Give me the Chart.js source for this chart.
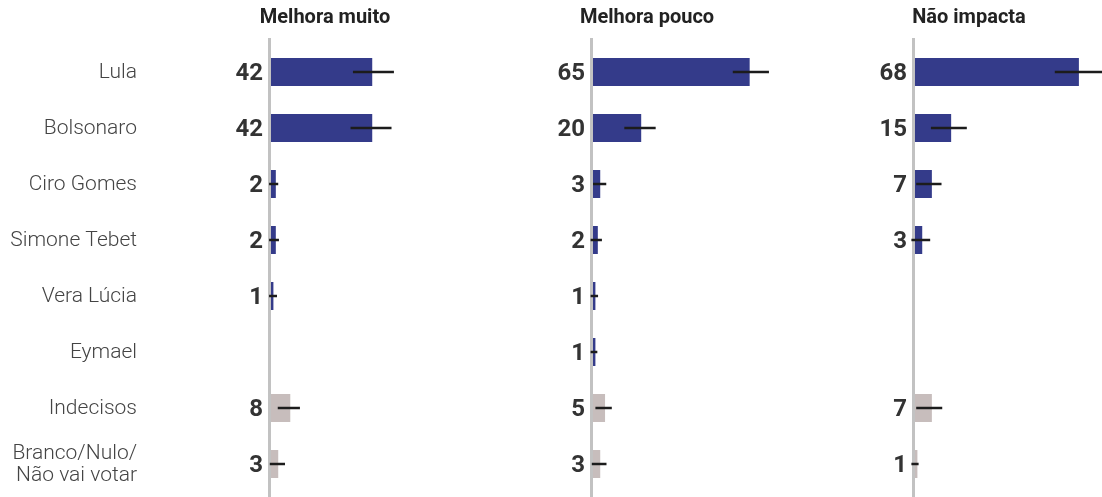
<!DOCTYPE html>
<html>
<head>
<meta charset="utf-8">
<script src="https://cdn.jsdelivr.net/npm/chart.js@4/dist/chart.umd.min.js"></script>
<style>
  html, body { margin: 0; padding: 0; background: #fff; overflow: hidden; }
  .panel { position: absolute; top: 0; height: 497px; }
</style>
</head>
<body>
<div class="panel" id="p1" style="left:0;width:459px"><canvas id="c1"></canvas></div>
<div class="panel" id="p2" style="left:471px;width:310px"><canvas id="c2"></canvas></div>
<div class="panel" id="p3" style="left:793px;width:310px"><canvas id="c3"></canvas></div>
<script>
// candidatos
var categories = ["Lula", "Bolsonaro", "Ciro Gomes", "Simone Tebet", "Vera Lúcia", "Eymael", "Indecisos", ["Branco/Nulo/", "Não vai votar"]];
var panelTitles = ["Melhora muito", "Melhora pouco", "Não impacta"];

// % de votos em cada grupo
var melhoraMuito = [42, 42, 2, 2, 1, null, 8, 3];
var melhoraPouco = [65, 20, 3, 2, 1, 1, 5, 3];
var naoImpacta = [68, 15, 7, 3, null, null, 7, 1];

// margem de erro (limite inferior / superior)
var melhoraMuitoLow = [34, 33, -0.8, -0.8, -0.8, null, 2.8, -0.5];
var melhoraMuitoHigh = [51, 50, 3, 3.3, 2.5, null, 12, 5.8];
var melhoraPoucoLow = [58, 13, 0, -1, -1, -1, 1, -0.5];
var melhoraPoucoHigh = [73, 26, 5.5, 3.7, 2.1, 1.8, 7.8, 5.6];
var naoImpactaLow = [58, 6.6, 0.5, -1.5, null, null, 0.5, -1.5];
var naoImpactaHigh = [78, 21.5, 11, 6.3, null, null, 11.3, 1.5];

var navy = "#343b8a";
var grey = "#c7bdbc";
var barColors = [navy, navy, navy, navy, navy, navy, grey, grey];

var fontFamily = "Roboto, 'Noto Sans', sans-serif";

// desenha linha do zero, valores, barras de erro e titulo
var panelDecor = {
  id: "panelDecor",
  beforeDatasetsDraw: function (chart) {
    var ctx = chart.ctx;
    var x0 = chart.scales.x.getPixelForValue(0);
    ctx.save();
    ctx.fillStyle = "#c2c2c2";
    ctx.fillRect(x0 - 3, 38, 3, chart.height - 38);
    ctx.restore();
  },
  afterDatasetsDraw: function (chart) {
    var ctx = chart.ctx;
    var xs = chart.scales.x;
    var x0 = xs.getPixelForValue(0);
    var opts = chart.options.plugins.panelDecor;
    var meta = chart.getDatasetMeta(0);
    var values = chart.data.datasets[0].data;
    ctx.save();
    // titulo
    ctx.font = "bold 20px " + fontFamily;
    ctx.fillStyle = "#222";
    ctx.textAlign = "center";
    ctx.textBaseline = "middle";
    ctx.fillText(opts.title, x0 + 54, 18);
    meta.data.forEach(function (bar, i) {
      if (values[i] == null) return;
      var y = bar.y;
      // barra de erro
      ctx.strokeStyle = "#1c1c1c";
      ctx.lineWidth = 2.5;
      ctx.beginPath();
      ctx.moveTo(xs.getPixelForValue(opts.low[i]), y);
      ctx.lineTo(xs.getPixelForValue(opts.high[i]), y);
      ctx.stroke();
      // valor
      ctx.font = "bold 24px " + fontFamily;
      ctx.fillStyle = "#333";
      ctx.textAlign = "right";
      ctx.fillText(values[i], x0 - 8, y + 1.5);
    });
    ctx.restore();
  }
};

function makePanel(canvasId, title, values, low, high, showLabels) {
  var axisWidth = showLabels ? 271 : 122;
  return new Chart(document.getElementById(canvasId), {
    type: "bar",
    data: {
      labels: categories,
      datasets: [
        {
          data: values,
          backgroundColor: barColors,
          borderWidth: 0,
          barPercentage: 0.5,
          categoryPercentage: 1,
        },
      ],
    },
    options: {
      indexAxis: "y",
      responsive: true,
      maintainAspectRatio: false,
      animation: false,
      layout: { padding: { top: 44, bottom: 5, left: 0, right: 0 } },
      scales: {
        x: {
          display: false,
          min: 0,
          max: 78,
        },
        y: {
          display: true,
          grid: { display: false, drawTicks: false },
          border: { display: false },
          ticks: {
            display: showLabels,
            padding: 134,
            labelOffset: 1,
            color: "#444",
            font: { family: fontFamily, size: 21, weight: 300, lineHeight: 1.05 },
          },
          afterFit: function (scale) {
            scale.width = axisWidth;
            // the tick padding should not eat vertical space
            scale.paddingTop = 0;
            scale.paddingBottom = 0;
          },
        },
      },
      plugins: {
        legend: { display: false },
        tooltip: { enabled: false },
        panelDecor: { title: title, low: low, high: high },
      },
    },
    plugins: [panelDecor],
  });
}

makePanel("c1", panelTitles[0], melhoraMuito, melhoraMuitoLow, melhoraMuitoHigh, true);
makePanel("c2", panelTitles[1], melhoraPouco, melhoraPoucoLow, melhoraPoucoHigh, false);
makePanel("c3", panelTitles[2], naoImpacta, naoImpactaLow, naoImpactaHigh, false);
</script>
</body>
</html>
